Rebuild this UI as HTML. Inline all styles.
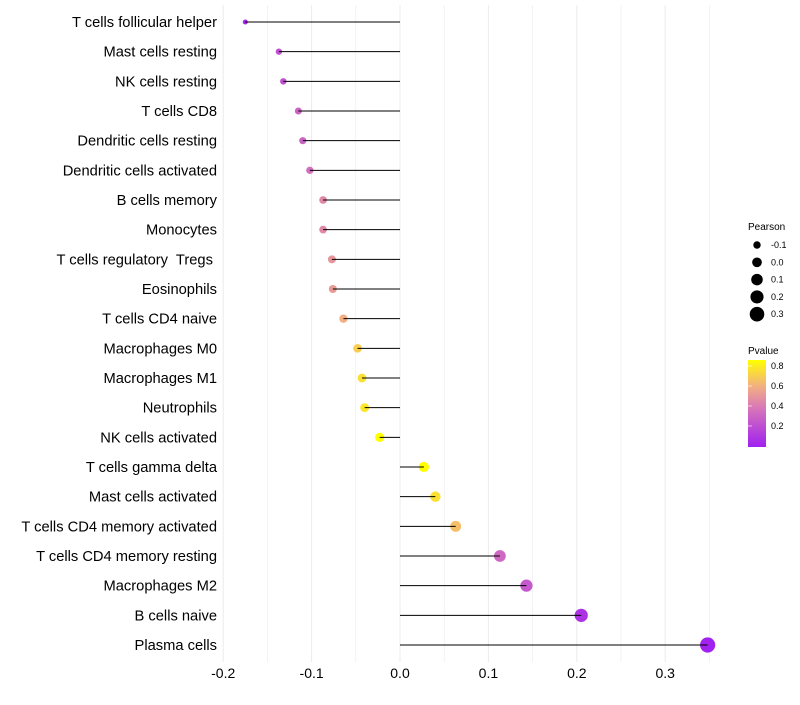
<!DOCTYPE html>
<html><head><meta charset="utf-8"><style>
body{margin:0;background:#fff;font-family:"Liberation Sans",sans-serif}
</style></head><body>
<svg id="chart" width="800" height="700" xmlns="http://www.w3.org/2000/svg">
<defs><linearGradient id="pg" x1="0" y1="1" x2="0" y2="0">
<stop offset="0" stop-color="#A020F0"/><stop offset="0.45" stop-color="#D877B8"/><stop offset="0.7" stop-color="#F2B080"/><stop offset="1" stop-color="#FFFF00"/></linearGradient></defs>
<g id="grid"></g><g id="points"></g><g id="stems"></g><g id="labels"></g>
<g font-size="9">
<text x="748" y="230" font-size="10">Pearson</text>
<g id="sizeleg"></g></g>
<g font-size="9">
<text x="748" y="354" font-size="10">Pvalue</text>
<rect x="748" y="360" width="18" height="87" fill="url(#pg)"/>
<g id="cbticks"></g></g>
</svg>
<script>
const categories=["T cells follicular helper","Mast cells resting","NK cells resting","T cells CD8","Dendritic cells resting","Dendritic cells activated","B cells memory","Monocytes","T cells regulatory  Tregs ","Eosinophils","T cells CD4 naive","Macrophages M0","Macrophages M1","Neutrophils","NK cells activated","T cells gamma delta","Mast cells activated","T cells CD4 memory activated","T cells CD4 memory resting","Macrophages M2","B cells naive","Plasma cells"];
const pearson=[-0.175,-0.137,-0.132,-0.115,-0.110,-0.102,-0.087,-0.087,-0.077,-0.076,-0.064,-0.048,-0.043,-0.040,-0.023,0.027,0.040,0.063,0.113,0.143,0.205,0.348];
const pvalue=[0.02,0.22,0.22,0.3,0.3,0.35,0.45,0.45,0.5,0.52,0.6,0.7,0.76,0.78,0.86,0.86,0.76,0.65,0.32,0.25,0.08,0.01];
const xTicks=[-0.2,-0.1,0.0,0.1,0.2,0.3];
const sizeLegend=[-0.1,0.0,0.1,0.2,0.3];
const colorTicks=[0.2,0.4,0.6,0.8];
const NS="http://www.w3.org/2000/svg";
const x=v=>400+v*884;
const y=i=>22+i*(623/21);
const r=v=>Math.sqrt(Math.max(3,13.7+98.3*(v+0.1)));
const cy=p=>446-p*100;
function col(p){const stops=[[0,[160,32,240]],[0.45,[216,119,184]],[0.7,[242,176,128]],[1,[255,255,0]]];let t=Math.min(1,Math.max(0,p/0.86));for(let k=1;k<stops.length;k++){if(t<=stops[k][0]){const a=stops[k-1],b=stops[k],f=(t-a[0])/(b[0]-a[0]);return `rgb(${a[1].map((c,j)=>Math.round(c+(b[1][j]-c)*f)).join(",")})`;}}return "rgb(255,255,0)";}
function mk(tag,attrs,parent,txt){const e=document.createElementNS(NS,tag);for(const k in attrs)e.setAttribute(k,attrs[k]);if(txt!==undefined)e.textContent=txt;parent.appendChild(e);return e;}
const grid=document.getElementById("grid"),points=document.getElementById("points"),stems=document.getElementById("stems"),labels=document.getElementById("labels");
for(let v=-0.2;v<=0.36;v+=0.05){const g=mk("line",{x1:x(v),x2:x(v),y1:5,y2:662,stroke:"#ebebeb","stroke-width":Math.abs(Math.round(v*100)%10)<0.5?1:0.6},grid);

}
xTicks.forEach(t=>{const e=mk("text",{x:x(t),y:678,"text-anchor":"middle","font-size":14,fill:"#000"},labels,t.toFixed(1));

});
categories.forEach((c,i)=>{const l=mk("text",{x:217,y:y(i)+5,"text-anchor":"end","font-size":14.7,fill:"#000",style:"white-space:pre"},labels,c);


const d=mk("circle",{cx:x(pearson[i]),cy:y(i),r:r(pearson[i]),fill:col(pvalue[i])},points);


const s=mk("line",{x1:x(0),x2:x(pearson[i]),y1:y(i),y2:y(i),stroke:"#000","stroke-width":1},stems);

});
const sl=document.getElementById("sizeleg");
sizeLegend.forEach((v,i)=>{const yy=245+i*17.3;const c=mk("circle",{cx:757,cy:yy,r:r(v),fill:"#000"},sl);


const t=mk("text",{x:771,y:yy+3},sl,v.toFixed(1));

});
const cb=document.getElementById("cbticks");
colorTicks.forEach(p=>{const t=mk("text",{x:771,y:cy(p)+3},cb,p.toFixed(1));


const l=mk("line",{x1:748,x2:752,y1:cy(p),y2:cy(p),stroke:"#fff","stroke-width":0.6},cb);

});
</script>
</body></html>
